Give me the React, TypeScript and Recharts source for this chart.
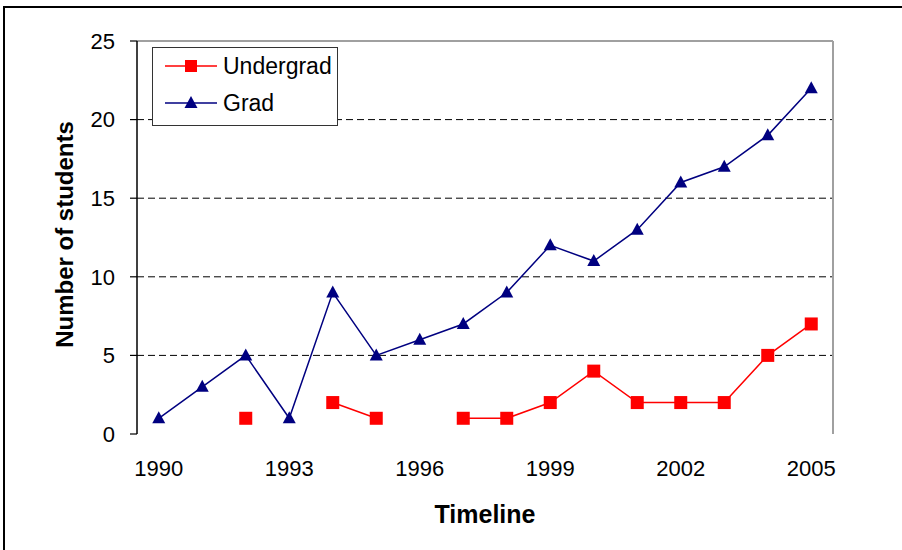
import React from 'react';
import { LineChart, Line, XAxis, YAxis, CartesianGrid, Legend, ReferenceLine } from 'recharts';

const years = [1990, 1991, 1992, 1993, 1994, 1995, 1996, 1997, 1998, 1999, 2000, 2001, 2002, 2003, 2004, 2005];
const undergrad: (number | null)[] = [null, null, 1, null, 2, 1, null, 1, 1, 2, 4, 2, 2, 2, 5, 7];
const grad = [1, 3, 5, 1, 9, 5, 6, 7, 9, 12, 11, 13, 16, 17, 19, 22];
const yTicks = [0, 5, 10, 15, 20, 25];
const gridValues = [5, 10, 15, 20];
const xLabelTicks = [1990, 1993, 1996, 1999, 2002, 2005];
const xBoundaryTicks = [...years.map((y) => y - 0.5), years[years.length - 1] + 0.5];

const data = years.map((year, i) => ({ year, undergrad: undergrad[i], grad: grad[i] }));

const FONT = '"Liberation Sans", Arial, sans-serif';
const RED = '#FF0000';
const NAVY = '#000080';

const SquareDot = (props: any) => {
  const { cx, cy, value, index } = props;
  if (cx == null || cy == null || value == null) return <g key={`s${index}`} />;
  return <rect key={`s${index}`} x={cx - 6.5} y={cy - 6.5} width={13} height={13} fill={RED} />;
};

const TriangleDot = (props: any) => {
  const { cx, cy, value, index } = props;
  if (cx == null || cy == null || value == null) return <g key={`t${index}`} />;
  return <path key={`t${index}`} d={`M${cx},${cy - 7} L${cx + 6.5},${cy + 5} L${cx - 6.5},${cy + 5} Z`} fill={NAVY} />;
};

const renderLegend = () => (
  <div
    style={{
      width: 186,
      height: 79,
      boxSizing: 'border-box',
      border: '1.5px solid #333',
      background: '#fff',
      fontFamily: FONT,
      fontSize: 23,
      position: 'relative',
      color: '#000',
    }}
  >
    <svg width={60} height={20} style={{ position: 'absolute', left: 12, top: 8 }}>
      <line x1={0} y1={10} x2={52} y2={10} stroke={RED} strokeWidth={1.5} />
      <rect x={20} y={4} width={12} height={12} fill={RED} />
    </svg>
    <div style={{ position: 'absolute', left: 70, top: 4, lineHeight: '28px' }}>Undergrad</div>
    <svg width={60} height={20} style={{ position: 'absolute', left: 12, top: 45 }}>
      <line x1={0} y1={10} x2={52} y2={10} stroke={NAVY} strokeWidth={1.5} />
      <path d="M26,3 L32.5,15 L19.5,15 Z" fill={NAVY} />
    </svg>
    <div style={{ position: 'absolute', left: 70, top: 41, lineHeight: '28px' }}>Grad</div>
  </div>
);

export default function App() {
  return (
    <div style={{ position: 'absolute', left: 0, top: 0, width: 902, height: 550, background: '#fff', overflow: 'hidden' }}>
      <div
        style={{
          position: 'absolute',
          left: 3,
          top: 6,
          width: 899,
          height: 544,
          borderLeft: '2px solid #000',
          borderTop: '2px solid #000',
          boxSizing: 'border-box',
        }}
      />
      <div style={{ position: 'absolute', left: 0, top: 0 }}>
        <LineChart width={902} height={550} data={data} margin={{ top: 41, right: 69, left: 0, bottom: 0 }}>
          <CartesianGrid
            xAxisId="main"
            vertical={false}
            horizontalValues={gridValues}
            stroke="#000"
            strokeDasharray="7 4"
          />
          <XAxis
            xAxisId="main"
            dataKey="year"
            type="number"
            domain={[xBoundaryTicks[0], xBoundaryTicks[xBoundaryTicks.length - 1]]}
            ticks={xBoundaryTicks}
            interval={0}
            height={0}
            tickFormatter={() => ''}
            tickSize={7}
            axisLine={{ stroke: '#000', strokeWidth: 1.5 }}
            tickLine={{ stroke: '#000', strokeWidth: 1.2 }}
            allowDataOverflow
          />
          <XAxis
            xAxisId="labels"
            dataKey="year"
            type="number"
            domain={[xBoundaryTicks[0], xBoundaryTicks[xBoundaryTicks.length - 1]]}
            ticks={xLabelTicks}
            interval={0}
            height={116}
            axisLine={false}
            tickLine={false}
            tickSize={7}
            tickMargin={19}
            tick={{ fontSize: 22, fill: '#000', fontFamily: FONT }}
            allowDataOverflow
            label={{
              value: 'Timeline',
              position: 'insideBottom',
              offset: 27,
              style: { fontSize: 25, fontWeight: 'bold', fill: '#000', fontFamily: FONT },
            }}
          />
          <YAxis
            domain={[0, 25]}
            ticks={yTicks}
            interval={0}
            width={137}
            tickSize={7}
            tickMargin={15}
            axisLine={{ stroke: '#000', strokeWidth: 1.5 }}
            tickLine={{ stroke: '#000', strokeWidth: 1.2 }}
            tick={{ fontSize: 22, fill: '#000', fontFamily: FONT }}
            label={{
              value: 'Number of students',
              angle: -90,
              position: 'center',
              dx: -4,
              dy: -3,
              style: { fontSize: 24, fontWeight: 'bold', fill: '#000', fontFamily: FONT, textAnchor: 'middle' },
            }}
          />
          <ReferenceLine y={25} xAxisId="main" stroke="#a0a0a0" strokeWidth={2} ifOverflow="extendDomain" />
          <ReferenceLine x={xBoundaryTicks[xBoundaryTicks.length - 1]} xAxisId="main" stroke="#a0a0a0" strokeWidth={2} />
          <Legend
            layout="horizontal"
            verticalAlign="middle"
            align="center"
            content={renderLegend}
            wrapperStyle={{ left: 152, top: 47, width: 186, height: 79 }}
          />
          <Line
            xAxisId="main"
            dataKey="undergrad"
            name="Undergrad"
            stroke={RED}
            strokeWidth={1.5}
            dot={SquareDot}
            activeDot={false}
            connectNulls={false}
            isAnimationActive={false}
          />
          <Line
            xAxisId="main"
            dataKey="grad"
            name="Grad"
            stroke={NAVY}
            strokeWidth={1.5}
            dot={TriangleDot}
            activeDot={false}
            isAnimationActive={false}
          />
        </LineChart>
      </div>
    </div>
  );
}
